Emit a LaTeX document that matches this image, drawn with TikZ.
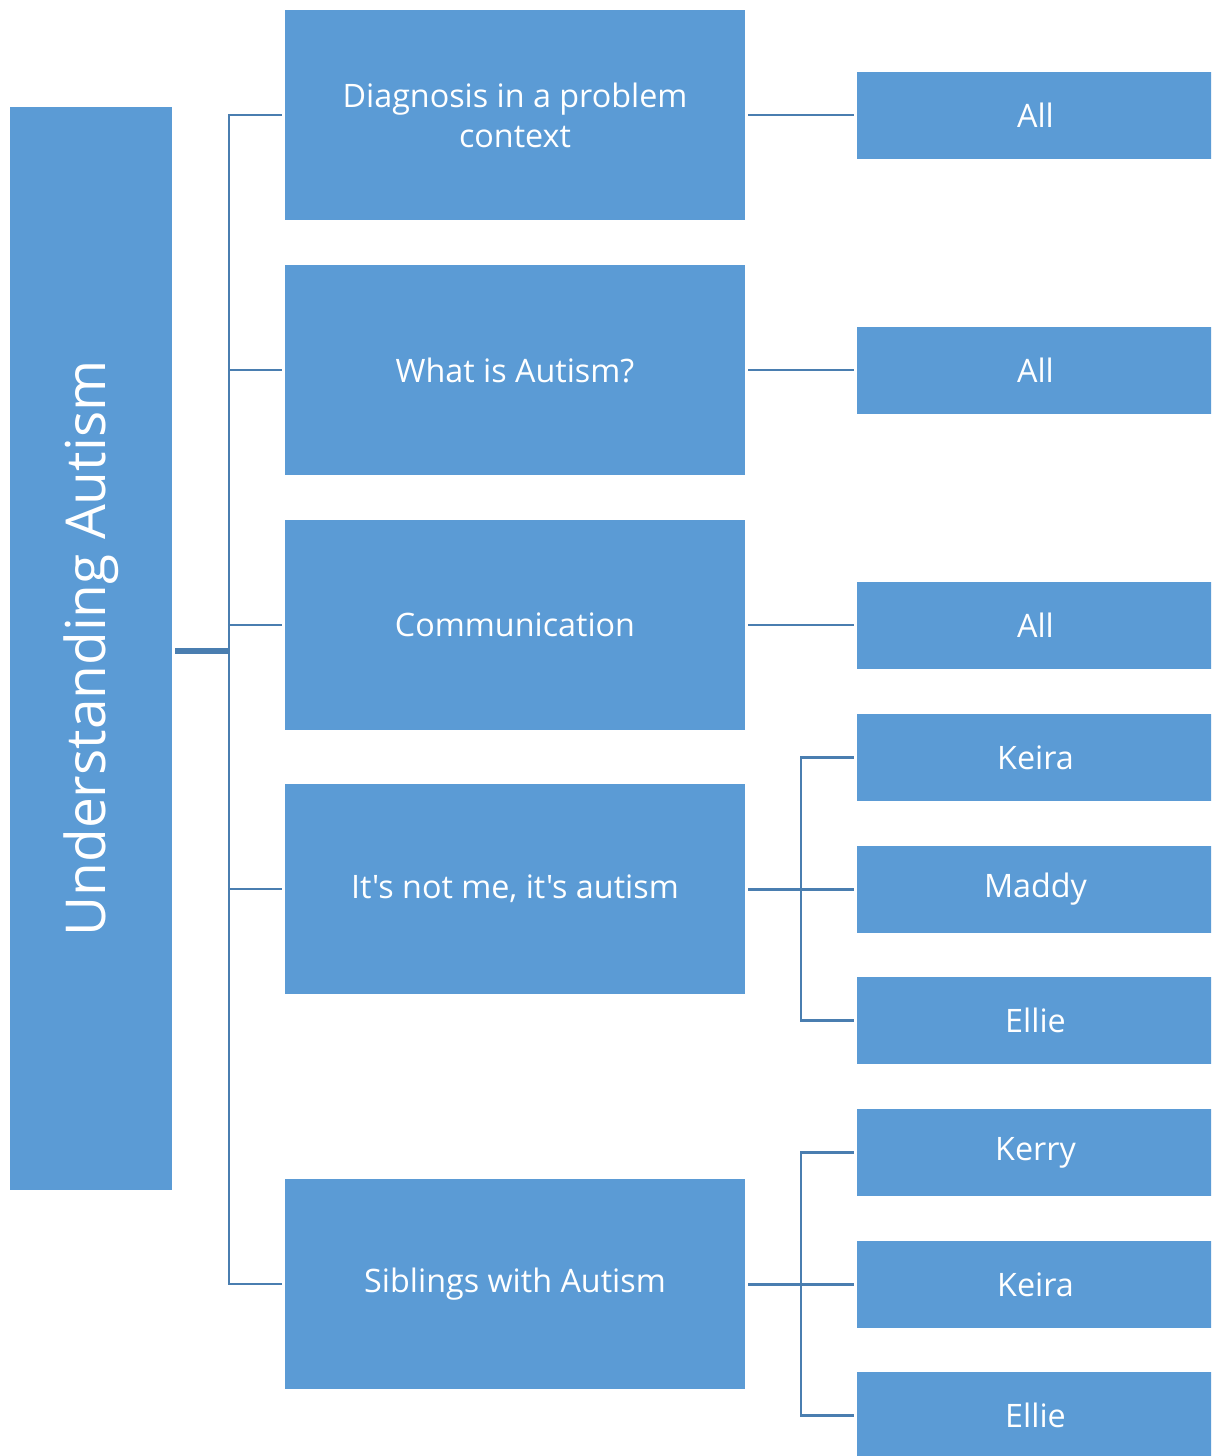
\documentclass[tikz,border=0pt]{standalone}
\usepackage{fontspec}
\setmainfont{Open Sans}[Ligatures=TeXOff]
\definecolor{boxfill}{HTML}{5B9BD5}
\definecolor{linec}{HTML}{4A7EB0}
\begin{document}
\begin{tikzpicture}[x=1pt,y=-1pt,
  box/.style={fill=boxfill,draw=none,text=white,align=center,inner sep=0pt},
  lvlone/.style={box,minimum width=460pt,minimum height=210pt,font=\fontsize{32.3}{40}\selectfont},
  lvltwo/.style={box,minimum width=357pt,minimum height=87pt,font=\fontsize{32.3}{40}\selectfont},
  conn/.style={draw=linec,line width=2.2pt},
  thickconn/.style={draw=linec,line width=4pt}]
\useasboundingbox (0,0) rectangle (1211,1456);
\fill[white] (0,0) rectangle (1211,1456);
\begin{scope}
\clip (0,0) rectangle (1211,1456);
% root
\node[box,minimum width=162pt,minimum height=1083pt] (root) at (91,648.5) {};
\node[text=white,rotate=90,font=\fontsize{55}{62}\selectfont,inner sep=0pt] (roottext) at (root.center) {Understanding Autism};
% level one
\node[lvlone] (a) at (515,115) {Diagnosis in a problem\\context};
\node[lvlone] (b) at (515,370) {What is Autism?};
\node[lvlone] (c) at (515,625) {Communication};
\node[lvlone] (d) at (515,889) {It's not me, it's autism};
\node[lvlone] (e) at (515,1284) {Siblings with Autism};
% level two
\node[lvltwo] (a1) at (1035.5,115.5) {All};
\node[lvltwo] (b1) at (1035.5,370.5) {All};
\node[lvltwo] (c1) at (1035.5,625.5) {All};
\node[lvltwo] (d1) at (1035.5,757.5) {Keira};
\node[lvltwo] (d2) at (1035.5,889.5) {Maddy};
\node[lvltwo] (d3) at (1035.5,1020.5) {Ellie};
\node[lvltwo] (e1) at (1035.5,1152.5) {Kerry};
\node[lvltwo] (e2) at (1035.5,1284.5) {Keira};
\node[lvltwo] (e3) at (1035.5,1415.5) {Ellie};
% connectors root -> level one
\coordinate (rj) at (229,651);
\draw[thickconn,line width=6pt] ([xshift=3pt]root.east |- rj) -- (rj);
\foreach \n in {a,b,c,d,e}{
  \draw[conn] (rj) |- ([xshift=-3pt]\n.west);
}
% level one -> level two
\draw[conn] ([xshift=3pt]a.east) -- ([xshift=-3pt]a1.west |- a.east);
\draw[conn] ([xshift=3pt]b.east) -- ([xshift=-3pt]b1.west |- b.east);
\draw[conn] ([xshift=3pt]c.east) -- ([xshift=-3pt]c1.west |- c.east);
\coordinate (dj) at (801,889);
\coordinate (ej) at (801,1284);
\draw[thickconn,line width=3pt] ([xshift=3pt]d.east) -- (dj);
\draw[thickconn,line width=3pt] ([xshift=3pt]e.east) -- (ej);
\foreach \n in {d1,d2,d3}{
  \draw[conn] (dj) |- ([xshift=-3pt]\n.west);
}
\foreach \n in {e1,e2,e3}{
  \draw[conn] (ej) |- ([xshift=-3pt]\n.west);
}
\end{scope}
\end{tikzpicture}
\end{document}
